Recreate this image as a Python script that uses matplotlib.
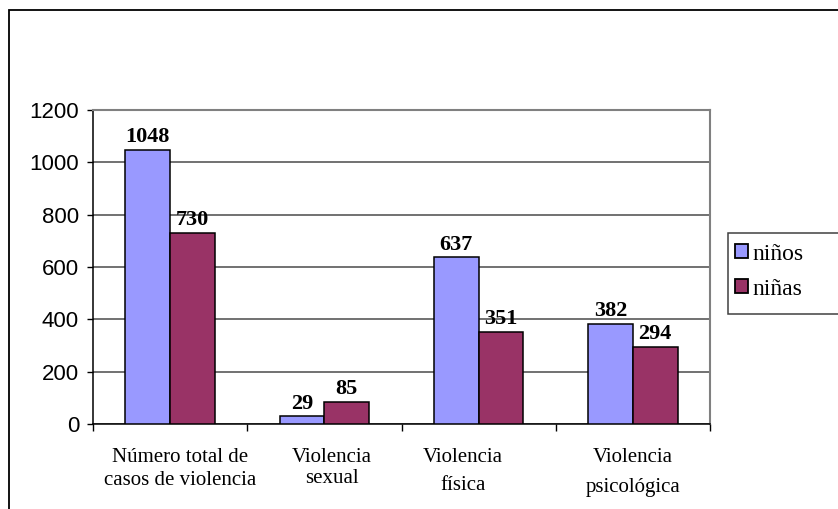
import numpy as np
import matplotlib.pyplot as plt
from matplotlib.patches import Patch, Rectangle
from matplotlib.transforms import blended_transform_factory

# Data
categories = ['Número total de\ncasos de violencia', 'Violencia\nsexual',
              'Violencia\nfísica', 'Violencia\npsicológica']
ninos = [1048, 29, 637, 382]
ninas = [730, 85, 351, 294]
series_names = ['niños', 'niñas']
yticks = [0, 200, 400, 600, 800, 1000, 1200]

c_ninos = '#9999FF'
c_ninas = '#993366'
serif = ['Liberation Serif', 'DejaVu Serif']
sans = ['Liberation Sans', 'DejaVu Sans']

fig = plt.figure(figsize=(8.38, 5.09), dpi=100)
ax = fig.add_axes([93 / 838, 1 - 424 / 509, 617 / 838, 314 / 509])

x = np.arange(len(categories))
w = 0.29
b1 = ax.bar(x - w / 2, ninos, w, color=c_ninos, edgecolor='black', linewidth=1.1, zorder=3)
b2 = ax.bar(x + w / 2, ninas, w, color=c_ninas, edgecolor='black', linewidth=1.1, zorder=3)

for bars, vals in ((b1, ninos), (b2, ninas)):
    for r, v in zip(bars, vals):
        ax.annotate(str(v), (r.get_x() + r.get_width() / 2, v), xytext=(0, 2),
                    textcoords='offset points', ha='center', va='bottom',
                    fontsize=16, fontweight='bold', family=serif, zorder=4)

ax.set_xlim(-0.5, len(categories) - 0.5)
ax.set_ylim(0, 1200)
ax.set_yticks(yticks)
ax.set_yticklabels([str(t) for t in yticks], family=sans, fontsize=16)
ax.yaxis.grid(True, color='#4a4a4a', linewidth=1.1, zorder=0)
ax.tick_params(axis='y', direction='out', length=4, width=1, pad=6)

# category boundaries as x ticks, labels written separately
ax.set_xticks(np.arange(len(categories) + 1) - 0.5)
ax.set_xticklabels([])
ax.tick_params(axis='x', direction='out', length=5, width=1)

trans = blended_transform_factory(ax.transData, ax.transAxes)
label_dx = [0.065, 0.05, -0.10, 0.0]
label_ls = [1.3, 1.15, 1.7, 1.8]
for i, lab in enumerate(categories):
    ax.text(i + label_dx[i], -0.075, lab, transform=trans, ha='center', va='top',
            fontsize=15, family=serif, linespacing=label_ls[i])

for s in ('left', 'bottom'):
    ax.spines[s].set_color('black')
    ax.spines[s].set_linewidth(1.1)
for s in ('top', 'right'):
    ax.spines[s].set_color('#808080')
    ax.spines[s].set_linewidth(1.5)

# legend
fig.patches.append(Rectangle((728 / 838, 1 - 314 / 509), 130 / 838, 81 / 509,
                             transform=fig.transFigure, facecolor='white',
                             edgecolor='#404040', linewidth=1.1, clip_on=False))
handles = [Patch(facecolor=c_ninos, edgecolor='black', linewidth=1.3),
           Patch(facecolor=c_ninas, edgecolor='black', linewidth=1.3)]
fig.legend(handles, series_names, loc='upper left', bbox_to_anchor=(718 / 838, 1 - 227 / 509),
           frameon=False, prop={'family': serif, 'size': 17}, handlelength=0.55,
           handleheight=0.55, handletextpad=0.2, labelspacing=0.6, borderpad=0.2)

# outer border of the chart
fig.patches.append(Rectangle((9 / 838, -0.05), 1.0, 1 - 10 / 509 + 0.05,
                             transform=fig.transFigure, fill=False,
                             edgecolor='black', linewidth=1.3, clip_on=False))

fig.savefig('out.png', dpi=100)
